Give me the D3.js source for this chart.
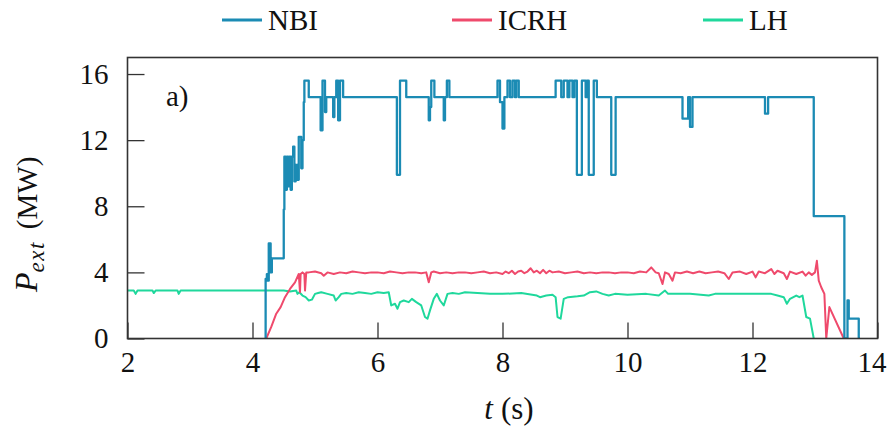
<!DOCTYPE html>
<html>
<head>
<meta charset="utf-8">
<script src="https://cdn.jsdelivr.net/npm/d3@7"></script>
<style>
  body { margin: 0; background: #fff; }
  svg { display: block; font-family: "Liberation Serif", "DejaVu Serif", serif; }
</style>
</head>
<body>
<div id="chart"></div>
<script>
// series: [t (s), P (MW)]
const nbi = [
  [4.20, 0], [4.21, 3.6], [4.23, 3.9], [4.24, 3.5], [4.26, 5.75], [4.29, 4.0], [4.31, 4.85],
  [4.50, 7.8], [4.51, 11.0], [4.53, 9.0], [4.55, 11.0], [4.57, 9.2], [4.59, 11.0], [4.61, 9.0],
  [4.63, 11.0], [4.65, 11.6], [4.67, 9.5], [4.69, 10.5], [4.72, 9.6], [4.74, 12.2], [4.78, 10.3],
  [4.80, 12.0], [4.82, 14.3], [4.83, 15.6], [4.90, 14.6],
  [5.09, 12.6], [5.12, 15.6], [5.16, 13.7], [5.18, 14.6],
  [5.29, 13.4], [5.31, 14.6], [5.34, 15.6], [5.37, 13.2], [5.40, 15.6], [5.45, 14.6],
  [6.31, 9.9], [6.36, 15.6], [6.46, 14.6],
  [6.82, 13.2], [6.84, 14.0], [6.86, 15.6], [6.91, 14.6],
  [7.06, 13.2], [7.08, 14.6], [7.11, 15.6], [7.15, 14.6],
  [7.92, 15.6], [7.96, 14.3], [8.00, 12.7], [8.03, 14.6], [8.08, 15.6], [8.12, 14.6],
  [8.16, 15.6], [8.20, 14.6], [8.22, 15.6], [8.26, 14.6],
  [8.85, 15.6], [8.94, 14.6], [8.98, 15.6], [9.04, 14.6], [9.07, 15.6], [9.12, 14.6],
  [9.15, 15.6], [9.19, 9.9], [9.27, 15.6], [9.33, 14.6], [9.35, 15.6], [9.38, 9.9],
  [9.46, 15.6], [9.51, 14.6], [9.74, 9.9], [9.81, 14.6],
  [10.88, 13.3], [10.97, 14.6], [11.00, 12.8], [11.04, 14.6],
  [12.20, 13.6], [12.25, 14.6],
  [12.98, 7.4], [13.47, 0], [13.52, 2.3], [13.54, 1.2], [13.70, 0], [13.72, 0]
]

const icrh = [
  [4.22, 0], [4.30, 0.7], [4.38, 1.5], [4.45, 1.9], [4.52, 2.5], [4.60, 3.0], [4.68, 3.4],
  [4.74, 3.9], [4.76, 2.8], [4.77, 3.9], [4.80, 4.0], [4.83, 3.9], [4.84, 2.9], [4.86, 4.0],
  [4.9, 4.0], [5.0, 4.05], [5.1, 3.95], [5.14, 3.8], [5.2, 4.0], [5.3, 3.9], [5.4, 4.0],
  [5.5, 3.95], [5.6, 4.05], [5.7, 4.0], [5.8, 3.95], [5.9, 4.0], [6.0, 4.0], [6.1, 3.95],
  [6.2, 4.05], [6.3, 4.0], [6.4, 3.95], [6.5, 4.0], [6.6, 4.0], [6.7, 3.95], [6.78, 4.0],
  [6.82, 3.4], [6.86, 4.0], [6.9, 4.05], [7.0, 3.95], [7.1, 4.0], [7.2, 3.95], [7.3, 4.0],
  [7.4, 4.0], [7.5, 3.95], [7.6, 4.0], [7.7, 4.05], [7.8, 3.95], [7.9, 4.0], [8.0, 3.9],
  [8.05, 4.05], [8.1, 3.95], [8.15, 4.1], [8.2, 3.9], [8.25, 4.05], [8.3, 4.1], [8.35, 3.95],
  [8.4, 4.05], [8.45, 4.25], [8.5, 4.0], [8.55, 4.1], [8.6, 3.95], [8.65, 4.15], [8.7, 3.95],
  [8.75, 4.1], [8.8, 4.0], [8.9, 4.05], [9.0, 3.95], [9.1, 4.0], [9.2, 4.05], [9.3, 3.95],
  [9.4, 4.0], [9.5, 3.95], [9.6, 4.0], [9.7, 4.0], [9.8, 3.95], [9.9, 4.0], [10.0, 4.0],
  [10.1, 3.95], [10.2, 4.05], [10.3, 4.0], [10.38, 4.3], [10.45, 4.0], [10.5, 3.95],
  [10.56, 3.3], [10.6, 4.0], [10.66, 3.9], [10.72, 3.5], [10.76, 4.0], [10.85, 3.95],
  [10.95, 4.05], [11.05, 3.95], [11.15, 4.05], [11.25, 3.95], [11.35, 4.0], [11.45, 4.05],
  [11.55, 3.95], [11.62, 3.6], [11.68, 4.0], [11.8, 4.05], [11.9, 3.9], [12.0, 4.05],
  [12.05, 3.7], [12.1, 4.05], [12.2, 3.95], [12.3, 4.2], [12.35, 3.9], [12.4, 4.1],
  [12.5, 3.95], [12.55, 3.6], [12.6, 4.05], [12.7, 3.9], [12.8, 4.05], [12.85, 3.8],
  [12.9, 4.0], [12.95, 3.85], [13.0, 4.0], [13.03, 4.7], [13.06, 3.5], [13.1, 3.1],
  [13.15, 2.7], [13.18, 0], [13.23, 1.9], [13.46, 0]
]

const lh = [
  [2.0, 2.9], [2.1, 2.9], [2.13, 2.7], [2.16, 2.9], [2.4, 2.9], [2.42, 2.75], [2.45, 2.9],
  [2.8, 2.9], [2.82, 2.7], [2.85, 2.9], [3.0, 2.9], [3.5, 2.9], [4.0, 2.9], [4.5, 2.9],
  [4.6, 2.85], [4.7, 2.9], [4.72, 2.7], [4.75, 2.8], [4.8, 2.6], [4.85, 2.5], [4.9, 2.3],
  [4.95, 2.35], [5.0, 2.7], [5.05, 2.75], [5.1, 2.8], [5.2, 2.7], [5.3, 2.6], [5.33, 2.3],
  [5.38, 2.5], [5.42, 2.7], [5.5, 2.75], [5.6, 2.7], [5.7, 2.8], [5.8, 2.75], [5.9, 2.7],
  [6.0, 2.8], [6.1, 2.75], [6.18, 2.8], [6.22, 2.0], [6.28, 2.1], [6.32, 1.8], [6.36, 2.2],
  [6.42, 2.3], [6.5, 2.2], [6.55, 2.4], [6.62, 2.2], [6.7, 2.0], [6.76, 1.3], [6.8, 1.2],
  [6.84, 1.7], [6.9, 2.4], [6.95, 2.7], [7.0, 2.3], [7.06, 2.0], [7.12, 2.7], [7.2, 2.75],
  [7.3, 2.7], [7.4, 2.8], [7.6, 2.75], [7.8, 2.7], [8.0, 2.7], [8.3, 2.75], [8.55, 2.6],
  [8.6, 2.5], [8.7, 2.6], [8.8, 2.65], [8.85, 2.5], [8.88, 1.3], [8.93, 1.2], [8.98, 2.4],
  [9.05, 2.5], [9.2, 2.55], [9.3, 2.6], [9.4, 2.8], [9.5, 2.85], [9.6, 2.7], [9.7, 2.6],
  [9.8, 2.7], [10.0, 2.65], [10.3, 2.7], [10.5, 2.6], [10.6, 2.9], [10.65, 2.7], [11.0, 2.7],
  [11.3, 2.6], [11.4, 2.7], [12.0, 2.7], [12.3, 2.7], [12.4, 2.6], [12.5, 2.5], [12.55, 2.1],
  [12.6, 2.4], [12.7, 2.6], [12.75, 2.5], [12.8, 2.6], [12.86, 1.3], [12.92, 1.2], [12.98, 0]
]

const xTicks = [2, 4, 6, 8, 10, 12, 14]
const yTicks = [0, 4, 8, 12, 16]
const legendNames = ["NBI", "ICRH", "LH"]
const colors = ["#1b8bb4", "#ef4a6c", "#1fd89c"]

const width = 889
const height = 427
const plotL = 127.5, plotR = 877.5, plotT = 57.5, plotB = 338.5
const serif = "'Liberation Serif', 'DejaVu Serif', serif"

const svg = d3.select("#chart")
  .append("svg")
  .attr("width", width)
  .attr("height", height)

const x = d3.scaleLinear().domain([2, 14]).range([plotL, plotR])
const y = d3.scaleLinear().domain([0, 17]).range([plotB, plotT])

svg.append("defs").append("clipPath").attr("id", "clip")
  .append("rect")
  .attr("x", plotL).attr("y", plotT)
  .attr("width", plotR - plotL).attr("height", plotB - plotT)

// lines
const stepLine = d3.line().x(d => x(d[0])).y(d => y(d[1])).curve(d3.curveStepAfter)
const plainLine = d3.line().x(d => x(d[0])).y(d => y(d[1]))

const g = svg.append("g").attr("clip-path", "url(#clip)")
g.append("path").datum(lh)
  .attr("d", plainLine).attr("fill", "none")
  .attr("stroke", colors[2]).attr("stroke-width", 2).attr("stroke-linejoin", "round")
g.append("path").datum(icrh)
  .attr("d", plainLine).attr("fill", "none")
  .attr("stroke", colors[1]).attr("stroke-width", 2).attr("stroke-linejoin", "round")
g.append("path").datum(nbi)
  .attr("d", stepLine).attr("fill", "none")
  .attr("stroke", colors[0]).attr("stroke-width", 2.3).attr("stroke-linejoin", "round")

// axes, ticks pointing inward
const xAxis = d3.axisBottom(x).tickValues(xTicks).tickSize(-16).tickPadding(13)
const yAxis = d3.axisLeft(y).tickValues(yTicks).tickSize(-17).tickPadding(19)

svg.append("g")
  .attr("transform", "translate(0," + plotB + ")")
  .call(xAxis)
  .call(a => a.select(".domain").remove())
  .call(a => a.selectAll(".tick text").attr("dx", d => d === 14 ? -6 : 0))
svg.append("g")
  .attr("transform", "translate(" + plotL + ",0)")
  .call(yAxis)
  .call(a => a.select(".domain").remove())

svg.selectAll(".tick line").attr("stroke", "#333").attr("stroke-width", 1.3)
svg.selectAll(".tick text")
  .style("font-family", serif)
  .style("font-size", "29px")
  .attr("fill", "#111")

// frame
svg.append("rect")
  .attr("x", plotL).attr("y", plotT)
  .attr("width", plotR - plotL).attr("height", plotB - plotT)
  .attr("fill", "none").attr("stroke", "#333").attr("stroke-width", 1.6)

// panel label
svg.append("text")
  .attr("x", 166).attr("y", 106)
  .attr("font-size", 29).attr("fill", "#111")
  .text("a)")

// axis titles
const xt = svg.append("text")
  .attr("x", 509).attr("y", 419)
  .attr("text-anchor", "middle")
  .attr("font-size", 31).attr("fill", "#111")
xt.append("tspan").attr("font-style", "italic").text("t")
xt.append("tspan").attr("dx", 8).text("(s)")

const yt = svg.append("text")
  .attr("transform", "translate(37,292) rotate(-90)")
  .attr("font-size", 29).attr("fill", "#111")
yt.append("tspan").attr("font-style", "italic").attr("font-size", 32).text("P")
yt.append("tspan").attr("font-style", "italic").attr("font-size", 23).attr("dy", 7)
  .attr("letter-spacing", 1.5).text("ext")
yt.append("tspan").attr("dy", -7).attr("dx", 12).text("(MW)")

// legend
const legendX = [222, 452, 703]
const lg = svg.append("g")
legendNames.forEach((name, i) => {
  lg.append("line")
    .attr("x1", legendX[i]).attr("x2", legendX[i] + 40)
    .attr("y1", 20).attr("y2", 20)
    .attr("stroke", colors[i]).attr("stroke-width", 3)
  lg.append("text")
    .attr("x", legendX[i] + 46).attr("y", 30)
    .attr("font-size", 29).attr("fill", "#111")
    .text(name)
})
</script>
</body>
</html>
